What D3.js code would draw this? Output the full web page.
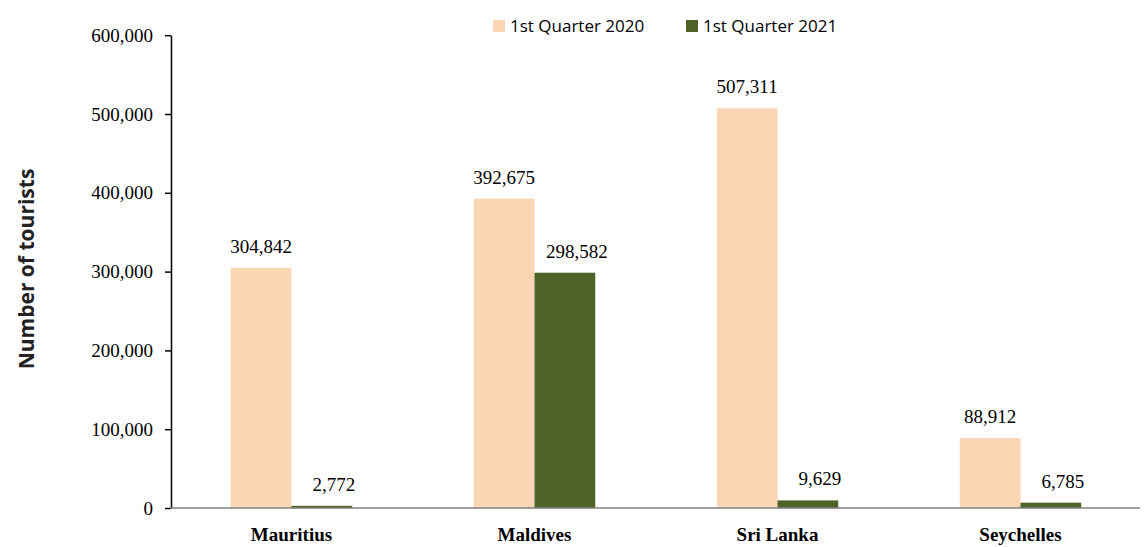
<!DOCTYPE html>
<html>
<head>
<meta charset="utf-8">
<script src="https://cdn.jsdelivr.net/npm/d3@7"></script>
<style>
  body { margin: 0; background: #fff; }
  svg { display: block; }
</style>
</head>
<body>
<svg id="chart"></svg>
<script>
const countries = ["Mauritius", "Maldives", "Sri Lanka", "Seychelles"];
const seriesNames = ["1st Quarter 2020", "1st Quarter 2021"];
const q1_2020 = [304842, 392675, 507311, 88912];
const q1_2021 = [2772, 298582, 9629, 6785];
const yTicks = [0, 100000, 200000, 300000, 400000, 500000, 600000];

const width = 1146, height = 547;
const colors = ["#FCD5B5", "#4F6228"];
const labelShift = [0, 12];

const svg = d3.select("#chart")
    .attr("width", width)
    .attr("height", height);

const x = d3.scaleBand()
    .domain(countries)
    .range([170, 1142])
    .paddingInner(0.5)
    .paddingOuter(0.25);

const xSub = d3.scaleBand()
    .domain(seriesNames)
    .range([0, x.bandwidth()]);

const y = d3.scaleLinear()
    .domain([0, 600000])
    .range([508, 35.2]);

const data = countries.map((c, i) => ({
    country: c,
    values: [q1_2020[i], q1_2021[i]]
}));

// bars
const groups = svg.selectAll(".group")
    .data(data)
    .enter()
    .append("g")
    .attr("transform", d => `translate(${x(d.country)},0)`);

groups.selectAll("rect")
    .data(d => d.values.map((v, j) => ({ key: seriesNames[j], value: v, j: j })))
    .enter()
    .append("rect")
    .attr("x", d => xSub(d.key))
    .attr("width", xSub.bandwidth())
    .attr("y", d => y(d.value))
    .attr("height", d => y(0) - y(d.value))
    .attr("fill", d => colors[d.j]);

groups.selectAll("text")
    .data(d => d.values.map((v, j) => ({ key: seriesNames[j], value: v, j: j })))
    .enter()
    .append("text")
    .attr("x", d => xSub(d.key) + xSub.bandwidth() / 2 + labelShift[d.j])
    .attr("y", d => y(d.value) - 15)
    .attr("text-anchor", "middle")
    .attr("font-family", "Liberation Serif, serif")
    .attr("font-size", 19)
    .attr("fill", "#000")
    .text(d => d3.format(",")(d.value));

// y axis
const yAxis = svg.append("g")
    .attr("transform", "translate(171,0)")
    .call(d3.axisLeft(y).tickValues(yTicks).tickFormat(d3.format(",")).tickSize(6).tickSizeOuter(0).tickPadding(12));
yAxis.selectAll("path, line").attr("stroke", "#000").attr("stroke-width", 1.5);
yAxis.selectAll("text")
    .attr("font-family", "Liberation Serif, serif")
    .attr("font-size", 19)
    .attr("fill", "#000");

// x axis
const xAxis = svg.append("g")
    .attr("transform", "translate(0,508)")
    .call(d3.axisBottom(x).tickSize(0).tickSizeOuter(0).tickPadding(20));
xAxis.select(".domain").attr("stroke", "#7f7f7f").attr("stroke-width", 1.5)
    .attr("d", "M170,0H1140");
xAxis.selectAll("text")
    .attr("font-family", "Liberation Serif, serif")
    .attr("font-weight", "bold")
    .attr("font-size", 19)
    .attr("fill", "#000");

// y title
svg.append("text")
    .attr("transform", "translate(34,269) rotate(-90)")
    .attr("text-anchor", "middle")
    .attr("font-family", "Open Sans, sans-serif")
    .attr("font-weight", "bold")
    .attr("font-size", 21)
    .attr("fill", "#222")
    .text("Number of tourists");

// legend
const legend = svg.append("g")
    .selectAll("g")
    .data(seriesNames)
    .enter()
    .append("g")
    .attr("transform", (d, i) => `translate(${493 + i * 193},20)`);

legend.append("rect")
    .attr("width", 12)
    .attr("height", 12)
    .attr("fill", (d, i) => colors[i]);

legend.append("text")
    .attr("x", 17)
    .attr("y", 12)
    .attr("font-family", "Open Sans, sans-serif")
    .attr("font-size", 17)
    .attr("fill", "#000")
    .text(d => d);
</script>
</body>
</html>
